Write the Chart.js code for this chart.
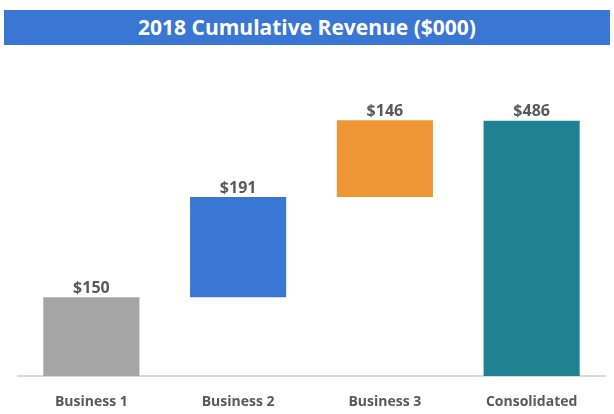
<!DOCTYPE html>
<html>
<head>
<title>2018 Cumulative Revenue</title>
<script src="https://cdn.jsdelivr.net/npm/chart.js@4"></script>
<style>
	body{margin:0;background:#fff;}
	#wrap{position:relative;width:614px;height:414px;}
	#titlebar{
		position:absolute;left:4px;top:10px;width:606px;height:35px;
		background-color:#3a76d3;color:#fff;
		font-family:"Open Sans",sans-serif;font-weight:bold;font-size:21px;
		text-align:center;line-height:35px;
	}
	#plot{position:absolute;left:0;top:0;}
</style>
</head>
<body>
<div id="wrap">
	<canvas id="plot" width="614" height="414"></canvas>
	<div id="titlebar">2018 Cumulative Revenue ($000)</div>
</div>
<script>
categories=["Business 1","Business 2","Business 3","Consolidated"];
values=[150,191,146,486];
bases=[0,150,341,0];
barColors=["#a5a5a5","#3a76d3","#ee9633","#1f8292"];

ranges=[];
for (var i=0;i<values.length;i++){
	ranges.push([bases[i],bases[i]+values[i]]);
}

//labels above the bars
const topLabels={
	id:"topLabels",
	afterDatasetsDraw:function(chart){
		var ctx=chart.ctx;
		var meta=chart.getDatasetMeta(0);
		ctx.save();
		ctx.font="bold 16px 'Open Sans', sans-serif";
		ctx.fillStyle="#595959";
		ctx.textAlign="center";
		ctx.textBaseline="bottom";
		meta.data.forEach(function(bar,i){
			ctx.fillText("$"+values[i],bar.x,Math.min(bar.y,bar.base)-1);
		});
		ctx.restore();
	}
};

const myChart=new Chart(document.getElementById("plot"),{
	type:"bar",
	data:{
		labels:categories,
		datasets:[{
			data:ranges,
			backgroundColor:barColors,
			borderWidth:0,
			barPercentage:0.655,
			categoryPercentage:1
		}]
	},
	options:{
		responsive:false,
		animation:false,
		layout:{padding:{left:18,right:9,top:61,bottom:4}},
		plugins:{legend:{display:false},tooltip:{enabled:false}},
		scales:{
			y:{display:false,min:0,max:600},
			x:{
				afterFit:function(scale){scale.height=34;},
				grid:{display:false,drawTicks:false},
				border:{display:true,color:"#d9d9d9",width:2},
				ticks:{
					padding:18,
					color:"#595959",
					font:{family:"'Open Sans', sans-serif",weight:"bold",size:14}
				}
			}
		}
	},
	plugins:[topLabels]
});
</script>
</body>
</html>
